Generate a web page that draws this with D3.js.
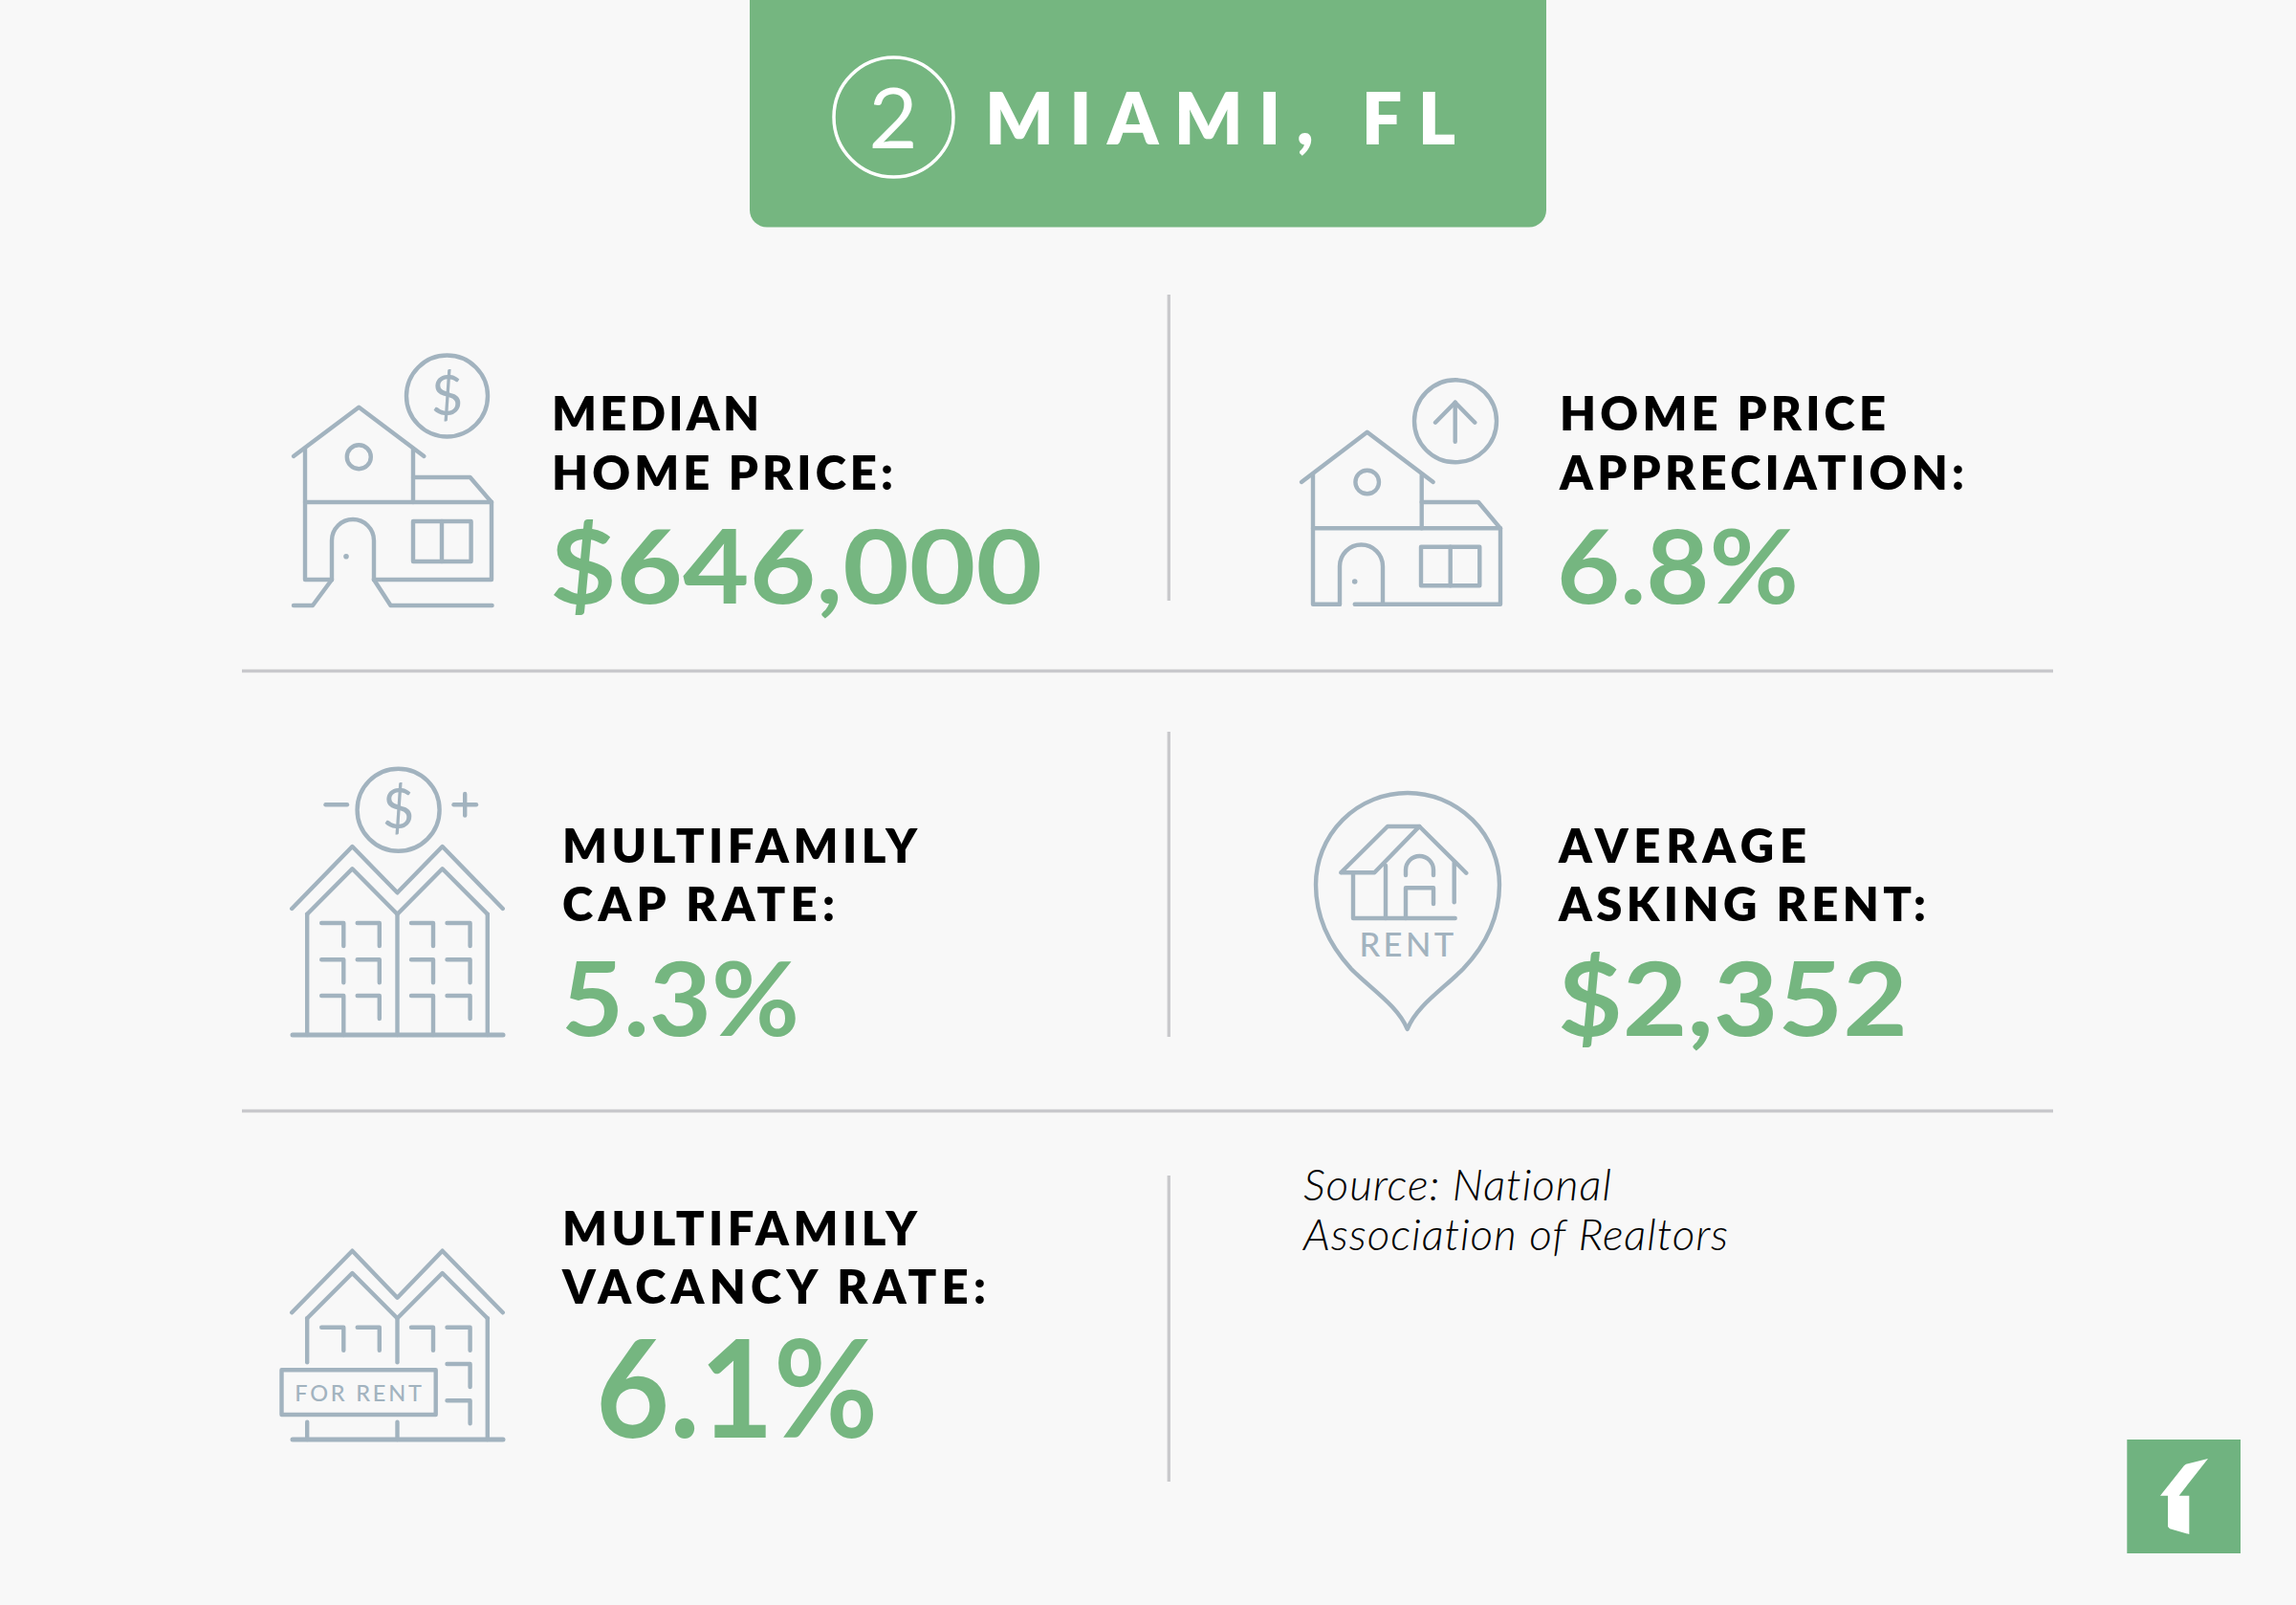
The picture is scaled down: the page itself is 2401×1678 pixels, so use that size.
<!DOCTYPE html>
<html><head><meta charset="utf-8">
<style>html,body{margin:0;padding:0;background:#f8f8f8}svg{display:block}</style>
<script src="https://cdn.jsdelivr.net/npm/d3@7"></script></head>
<body><svg id="c" width="2401" height="1678"></svg>
<script>
// ---- content ----
const rankNumber = "2";
const cityTitle = "MIAMI, FL";
const labelFirstLines  = ["MEDIAN", "HOME PRICE", "MULTIFAMILY", "AVERAGE", "MULTIFAMILY"];
const labelSecondLines = ["HOME PRICE:", "APPRECIATION:", "CAP RATE:", "ASKING RENT:", "VACANCY RATE:"];
const metricValues = ["$646,000", "6.8%", "5.3%", "$2,352", "6.1%"];
const sourceLines = ["Source: National", "Association of Realtors"];

// ---- layout (kept apart from the content) ----
const FONT = "Lato, sans-serif";
const GREEN = "#75b680", INK = "#000", ICON = "#a2b3bf", RULE = "#c9c9cc";
const lx = [577, 1631, 588, 1630, 588];           // label left
const l1y = [450, 450, 902, 902, 1302];
const l2y = [512, 512, 963, 963, 1363];
const l1w = [217, 341, 371, 259, 371];            // measured widths
const l2w = [357, 423, 285, 384, 443];
const vx = [575, 1628, 587, 1629, 623];
const vy = [631, 631, 1083, 1083, 1503];
const vw = [515, 253, 249, 366, 295];
const vs = [108, 108, 108, 108, 142];

const svg = d3.select("#c");
svg.append("rect").attr("width",2401).attr("height",1678).attr("fill","#f8f8f8");

// header
svg.append("path").attr("fill",GREEN)
  .attr("d", (()=>{const p=d3.path();p.moveTo(784,0);p.lineTo(1617,0);p.lineTo(1617,219);p.arcTo(1617,237.5,1599,237.5,18);p.lineTo(802,237.5);p.arcTo(784,237.5,784,219,18);p.closePath();return p.toString();})());
svg.append("circle").attr("cx",934.5).attr("cy",122.5).attr("r",62.5).attr("fill","none").attr("stroke","#fff").attr("stroke-width",3.5);
svg.append("text").text(rankNumber).attr("x",934).attr("y",155).attr("text-anchor","middle")
  .attr("font-family",FONT).attr("font-weight",400).attr("font-size",88).attr("fill","#fff");
svg.append("text").text(cityTitle).attr("x",1030).attr("y",150.5).attr("textLength",492).attr("lengthAdjust","spacing")
  .attr("font-family",FONT).attr("font-weight",800).attr("font-size",75).attr("fill","#fff");

// rules
const hRules = [701.5,1161.5], vRules = [[308,628],[765,1084],[1229,1549]];
svg.selectAll("line.h").data(hRules).join("line").attr("class","h")
  .attr("x1",253).attr("x2",2147).attr("y1",d=>d).attr("y2",d=>d).attr("stroke",RULE).attr("stroke-width",3.3);
svg.selectAll("line.v").data(vRules).join("line").attr("class","v")
  .attr("x1",1222.3).attr("x2",1222.3).attr("y1",d=>d[0]).attr("y2",d=>d[1]).attr("stroke",RULE).attr("stroke-width",3.3);

// metric labels + values
const labelText = (sel)=>sel.attr("font-family",FONT).attr("font-weight",800).attr("font-size",49).attr("fill",INK).attr("lengthAdjust","spacing");
labelText(svg.selectAll("text.l1").data(labelFirstLines).join("text").attr("class","l1").text(d=>d)
  .attr("x",(d,i)=>lx[i]).attr("y",(d,i)=>l1y[i]).attr("textLength",(d,i)=>l1w[i]));
labelText(svg.selectAll("text.l2").data(labelSecondLines).join("text").attr("class","l2").text(d=>d)
  .attr("x",(d,i)=>lx[i]).attr("y",(d,i)=>l2y[i]).attr("textLength",(d,i)=>l2w[i]));
svg.selectAll("text.v").data(metricValues).join("text").attr("class","v").text(d=>d)
  .attr("x",(d,i)=>vx[i]).attr("y",(d,i)=>vy[i]).attr("textLength",(d,i)=>vw[i]).attr("lengthAdjust","spacingAndGlyphs")
  .attr("font-family",FONT).attr("font-weight",700).attr("font-size",(d,i)=>vs[i]).attr("fill",GREEN);

// source
const sourceWidths = [322, 444];
svg.selectAll("text.s").data(sourceLines).join("text").attr("class","s").text(d=>d)
  .attr("x",1363).attr("y",(d,i)=>1255+i*52).attr("font-family",FONT).attr("font-style","italic").attr("font-weight",300)
  .attr("font-size",46).attr("fill","#000").style("font-variant-ligatures","none")
  .attr("textLength",(d,i)=>sourceWidths[i]).attr("lengthAdjust","spacing");

// icons: strokes in page coordinates grouped per icon
const icon = svg.append("g").attr("fill","none").attr("stroke",ICON).attr("stroke-width",4.4)
  .attr("stroke-linecap","round").attr("stroke-linejoin","round");
const ln = d3.line();
const stroke = pts => icon.append("path").attr("d", ln(pts));
const ring = (cx,cy,r) => icon.append("circle").attr("cx",cx).attr("cy",cy).attr("r",r);
const dot = (cx,cy) => svg.append("circle").attr("cx",cx).attr("cy",cy).attr("r",2.8).attr("fill",ICON);
const iconText = (t,x,y,fs,w,ls) => svg.append("text").text(t).attr("x",x).attr("y",y).attr("text-anchor","middle")
  .attr("font-family",FONT).attr("font-size",fs).attr("font-weight",w).attr("fill",ICON).attr("letter-spacing",ls||0);

// 1 house with coin
ring(467.5,414,42.5); iconText("$",467.5,434,58,400);
stroke([[307,477],[375.3,425.7],[443.4,477]]);
stroke([[319,469],[319,606],[347,606]]);
stroke([[432,469],[432,525]]);
stroke([[319,525],[514,525],[514,606],[391,606]]);
stroke([[432,499],[491.6,499],[514,525]]);
ring(375.3,477.7,12.5);
icon.append("path").attr("d","M347,606V565A22,22 0 0 1 391,565V606");
icon.append("rect").attr("x",432).attr("y",545).attr("width",60.6).attr("height",42);
stroke([[462,545],[462,587]]);
dot(362,581.7);
stroke([[347,606],[327,633],[307,633]]);
stroke([[391,606],[408.5,633],[514.6,633]]);

// 2 house with arrow
ring(1522,440.3,43);
stroke([[1501,441.7],[1521.7,420.7],[1542.3,441.7]]);
stroke([[1521.7,420.7],[1521.7,461.7]]);
stroke([[1361,504],[1429.7,451.7],[1498.7,504]]);
stroke([[1373,496],[1373,631.7],[1401,631.7]]);
stroke([[1486.7,496.7],[1486.7,552.3]]);
stroke([[1373,552.3],[1569,552.3],[1569,631.7],[1416.7,631.7]]);
stroke([[1486.7,525],[1546,525],[1569,552.3]]);
ring(1429.7,504,12.3);
icon.append("path").attr("d","M1401,631.7V592A22.5,22.5 0 0 1 1446,592V631.7");
icon.append("rect").attr("x",1486).attr("y",571.7).attr("width",61.3).attr("height",40.6);
stroke([[1516.7,571.7],[1516.7,612.3]]);
dot(1416.7,608);

// shared twin-gable building
const gables = (yOuter,yOuterV,yOuterEnd,yInnerTop,yInnerEnd) => {
  stroke([[305.2,yOuterEnd],[368.4,yOuter],[415.5,yOuterV],[462.6,yOuter],[525.8,yOuterEnd]]);
  stroke([[321.2,yInnerEnd],[368.4,yInnerTop],[415.5,yInnerEnd],[462.6,yInnerTop],[509.8,yInnerEnd]]);
};
const winCols = [[336.2,359.3],[373.7,396.8],[430,453],[467.5,491.6]];
const win = (c,y,h=24)=>stroke([[winCols[c][0],y],[winCols[c][1],y],[winCols[c][1],y+h]]);

// 3 cap rate building
ring(416.6,846.7,43); iconText("$",416.6,866,58,400);
stroke([[340.5,841.3],[363,841.3]]);
stroke([[474.5,841.3],[498,841.3]]); stroke([[486.2,830],[486.2,852.6]]);
gables(885,933.3,950,908.3,955.7);
[321.2,415.5,509.8].forEach(x=>stroke([[x,955.7],[x,1082]]));
icon.append("path").attr("stroke-width",5).attr("d",ln([[306,1082],[526,1082]]));
[965,1003.3].forEach(y=>[0,1,2,3].forEach(c=>win(c,y)));
win(0,1041,41); win(1,1041); win(2,1041,41); win(3,1041);

// 4 rent pin
icon.append("path").attr("d","M1471.7,1076C1462,1052 1435,1035 1413,1013C1392,990 1376,960 1376,925A96,96 0 0 1 1568,925C1568,960 1552,990 1530,1013C1508,1035 1481,1052 1471.7,1076Z");
stroke([[1402.3,912.3],[1451,864],[1484.3,864],[1437.3,912.3],[1402.3,912.3]]);
stroke([[1484.3,864],[1533.3,912.7]]);
stroke([[1520.7,901.7],[1520.7,943.3]]);
stroke([[1415,912.3],[1415,960],[1521.7,960]]);
stroke([[1449,905],[1449,960]]);
stroke([[1470,960],[1470,928.3],[1499,928.3],[1499,945]]);
icon.append("path").attr("d","M1470,915V909.5A14.5,14.5 0 0 1 1499,909.5V915");
iconText("RENT",1472.5,1000,34.5,500,3.4);

// 5 for-rent building
gables(1307.7,1356.7,1372.3,1331,1378.3);
stroke([[321.2,1378.3],[321.2,1424.3]]); stroke([[415.5,1378.3],[415.5,1424.3]]);
stroke([[509.8,1378.3],[509.8,1505]]);
stroke([[321.2,1486.7],[321.2,1505]]); stroke([[415.5,1486.7],[415.5,1505]]);
icon.append("path").attr("stroke-width",5).attr("d",ln([[306,1505],[526,1505]]));
icon.append("rect").attr("x",294.5).attr("y",1432.3).attr("width",161.2).attr("height",46.7);
[0,1,2,3].forEach(c=>win(c,1387.7));
win(3,1426); win(3,1464.3);
iconText("FOR RENT",376,1465,23.5,500,2.8);

// logo
svg.append("rect").attr("x",2224.3).attr("y",1505).attr("width",118.7).attr("height",119).attr("fill","#70b380");
const logoShape = [[327,105],[258,122],[252,127],[177,221],[201,221],[201,318],[207,325],[268,342],[268,221],[236,221]];
svg.append("path").attr("fill","#fff").attr("d", d3.line().x(d=>2200+d[0]/3).y(d=>1490+d[1]/3)(logoShape)+"Z");
</script></body></html>
